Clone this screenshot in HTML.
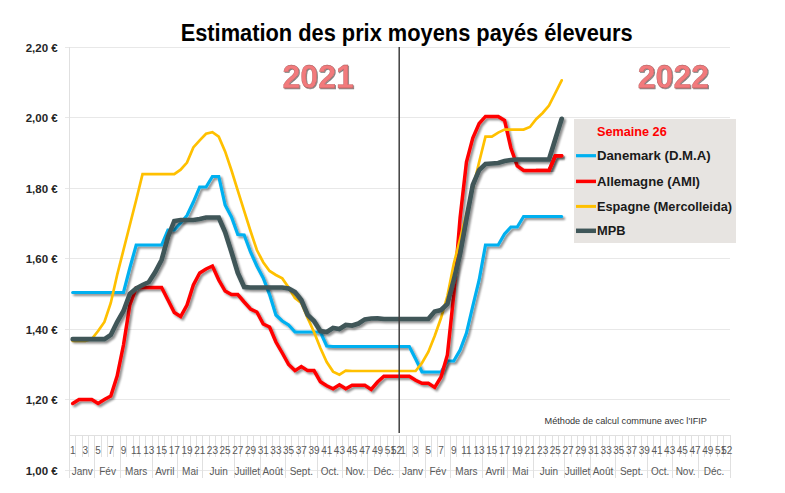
<!DOCTYPE html>
<html><head><meta charset="utf-8"><style>
html,body{margin:0;padding:0;background:#fff;width:785px;height:493px;overflow:hidden;font-family:"Liberation Sans",sans-serif;}
svg{display:block;}
</style></head><body>
<svg width="785" height="493" viewBox="0 0 785 493">
<defs>
<filter id="sh" x="-10%" y="-10%" width="120%" height="120%">
<feGaussianBlur in="SourceAlpha" stdDeviation="1.2"/>
<feOffset dx="1.8" dy="2" result="o"/>
<feComponentTransfer><feFuncA type="linear" slope="0.45"/></feComponentTransfer>
<feMerge><feMergeNode/><feMergeNode in="SourceGraphic"/></feMerge>
</filter>
<filter id="tsh" x="-10%" y="-10%" width="120%" height="130%">
<feGaussianBlur in="SourceAlpha" stdDeviation="0.6"/>
<feOffset dx="0.8" dy="1" result="o"/>
<feComponentTransfer><feFuncA type="linear" slope="0.5"/></feComponentTransfer>
<feMerge><feMergeNode/><feMergeNode in="SourceGraphic"/></feMerge>
</filter>
</defs>
<rect width="785" height="493" fill="#fff"/>
<line x1="65" y1="47.5" x2="730" y2="47.5" stroke="#e8e8e8" stroke-width="1"/>
<line x1="65" y1="117.5" x2="730" y2="117.5" stroke="#e8e8e8" stroke-width="1"/>
<line x1="65" y1="188.5" x2="730" y2="188.5" stroke="#e8e8e8" stroke-width="1"/>
<line x1="65" y1="258.5" x2="730" y2="258.5" stroke="#e8e8e8" stroke-width="1"/>
<line x1="65" y1="329.5" x2="730" y2="329.5" stroke="#e8e8e8" stroke-width="1"/>
<line x1="65" y1="399.5" x2="730" y2="399.5" stroke="#e8e8e8" stroke-width="1"/>
<line x1="65" y1="470.5" x2="730" y2="470.5" stroke="#e8e8e8" stroke-width="1"/>
<line x1="69.5" y1="47" x2="69.5" y2="478" stroke="#e0e0e0" stroke-width="1"/>
<line x1="69.5" y1="435.5" x2="730" y2="435.5" stroke="#e0e0e0" stroke-width="1"/>
<line x1="75.5" y1="435" x2="75.5" y2="457" stroke="#e0e0e0" stroke-width="1"/>
<line x1="82.5" y1="435" x2="82.5" y2="457" stroke="#e0e0e0" stroke-width="1"/>
<line x1="88.5" y1="435" x2="88.5" y2="457" stroke="#e0e0e0" stroke-width="1"/>
<line x1="94.5" y1="435" x2="94.5" y2="478" stroke="#e0e0e0" stroke-width="1"/>
<line x1="101.5" y1="435" x2="101.5" y2="457" stroke="#e0e0e0" stroke-width="1"/>
<line x1="107.5" y1="435" x2="107.5" y2="457" stroke="#e0e0e0" stroke-width="1"/>
<line x1="113.5" y1="435" x2="113.5" y2="457" stroke="#e0e0e0" stroke-width="1"/>
<line x1="120.5" y1="435" x2="120.5" y2="478" stroke="#e0e0e0" stroke-width="1"/>
<line x1="126.5" y1="435" x2="126.5" y2="457" stroke="#e0e0e0" stroke-width="1"/>
<line x1="133.5" y1="435" x2="133.5" y2="457" stroke="#e0e0e0" stroke-width="1"/>
<line x1="139.5" y1="435" x2="139.5" y2="457" stroke="#e0e0e0" stroke-width="1"/>
<line x1="145.5" y1="435" x2="145.5" y2="457" stroke="#e0e0e0" stroke-width="1"/>
<line x1="152.5" y1="435" x2="152.5" y2="478" stroke="#e0e0e0" stroke-width="1"/>
<line x1="158.5" y1="435" x2="158.5" y2="457" stroke="#e0e0e0" stroke-width="1"/>
<line x1="164.5" y1="435" x2="164.5" y2="457" stroke="#e0e0e0" stroke-width="1"/>
<line x1="171.5" y1="435" x2="171.5" y2="457" stroke="#e0e0e0" stroke-width="1"/>
<line x1="177.5" y1="435" x2="177.5" y2="478" stroke="#e0e0e0" stroke-width="1"/>
<line x1="183.5" y1="435" x2="183.5" y2="457" stroke="#e0e0e0" stroke-width="1"/>
<line x1="190.5" y1="435" x2="190.5" y2="457" stroke="#e0e0e0" stroke-width="1"/>
<line x1="196.5" y1="435" x2="196.5" y2="457" stroke="#e0e0e0" stroke-width="1"/>
<line x1="202.5" y1="435" x2="202.5" y2="478" stroke="#e0e0e0" stroke-width="1"/>
<line x1="209.5" y1="435" x2="209.5" y2="457" stroke="#e0e0e0" stroke-width="1"/>
<line x1="215.5" y1="435" x2="215.5" y2="457" stroke="#e0e0e0" stroke-width="1"/>
<line x1="221.5" y1="435" x2="221.5" y2="457" stroke="#e0e0e0" stroke-width="1"/>
<line x1="228.5" y1="435" x2="228.5" y2="457" stroke="#e0e0e0" stroke-width="1"/>
<line x1="234.5" y1="435" x2="234.5" y2="478" stroke="#e0e0e0" stroke-width="1"/>
<line x1="240.5" y1="435" x2="240.5" y2="457" stroke="#e0e0e0" stroke-width="1"/>
<line x1="247.5" y1="435" x2="247.5" y2="457" stroke="#e0e0e0" stroke-width="1"/>
<line x1="253.5" y1="435" x2="253.5" y2="457" stroke="#e0e0e0" stroke-width="1"/>
<line x1="260.5" y1="435" x2="260.5" y2="478" stroke="#e0e0e0" stroke-width="1"/>
<line x1="266.5" y1="435" x2="266.5" y2="457" stroke="#e0e0e0" stroke-width="1"/>
<line x1="272.5" y1="435" x2="272.5" y2="457" stroke="#e0e0e0" stroke-width="1"/>
<line x1="279.5" y1="435" x2="279.5" y2="457" stroke="#e0e0e0" stroke-width="1"/>
<line x1="285.5" y1="435" x2="285.5" y2="478" stroke="#e0e0e0" stroke-width="1"/>
<line x1="291.5" y1="435" x2="291.5" y2="457" stroke="#e0e0e0" stroke-width="1"/>
<line x1="298.5" y1="435" x2="298.5" y2="457" stroke="#e0e0e0" stroke-width="1"/>
<line x1="304.5" y1="435" x2="304.5" y2="457" stroke="#e0e0e0" stroke-width="1"/>
<line x1="310.5" y1="435" x2="310.5" y2="457" stroke="#e0e0e0" stroke-width="1"/>
<line x1="317.5" y1="435" x2="317.5" y2="478" stroke="#e0e0e0" stroke-width="1"/>
<line x1="323.5" y1="435" x2="323.5" y2="457" stroke="#e0e0e0" stroke-width="1"/>
<line x1="329.5" y1="435" x2="329.5" y2="457" stroke="#e0e0e0" stroke-width="1"/>
<line x1="336.5" y1="435" x2="336.5" y2="457" stroke="#e0e0e0" stroke-width="1"/>
<line x1="342.5" y1="435" x2="342.5" y2="478" stroke="#e0e0e0" stroke-width="1"/>
<line x1="348.5" y1="435" x2="348.5" y2="457" stroke="#e0e0e0" stroke-width="1"/>
<line x1="355.5" y1="435" x2="355.5" y2="457" stroke="#e0e0e0" stroke-width="1"/>
<line x1="361.5" y1="435" x2="361.5" y2="457" stroke="#e0e0e0" stroke-width="1"/>
<line x1="367.5" y1="435" x2="367.5" y2="478" stroke="#e0e0e0" stroke-width="1"/>
<line x1="374.5" y1="435" x2="374.5" y2="457" stroke="#e0e0e0" stroke-width="1"/>
<line x1="380.5" y1="435" x2="380.5" y2="457" stroke="#e0e0e0" stroke-width="1"/>
<line x1="387.5" y1="435" x2="387.5" y2="457" stroke="#e0e0e0" stroke-width="1"/>
<line x1="393.5" y1="435" x2="393.5" y2="457" stroke="#e0e0e0" stroke-width="1"/>
<line x1="399.5" y1="435" x2="399.5" y2="478" stroke="#e0e0e0" stroke-width="1"/>
<line x1="406.5" y1="435" x2="406.5" y2="457" stroke="#e0e0e0" stroke-width="1"/>
<line x1="412.5" y1="435" x2="412.5" y2="457" stroke="#e0e0e0" stroke-width="1"/>
<line x1="418.5" y1="435" x2="418.5" y2="457" stroke="#e0e0e0" stroke-width="1"/>
<line x1="425.5" y1="435" x2="425.5" y2="478" stroke="#e0e0e0" stroke-width="1"/>
<line x1="431.5" y1="435" x2="431.5" y2="457" stroke="#e0e0e0" stroke-width="1"/>
<line x1="437.5" y1="435" x2="437.5" y2="457" stroke="#e0e0e0" stroke-width="1"/>
<line x1="444.5" y1="435" x2="444.5" y2="457" stroke="#e0e0e0" stroke-width="1"/>
<line x1="450.5" y1="435" x2="450.5" y2="478" stroke="#e0e0e0" stroke-width="1"/>
<line x1="456.5" y1="435" x2="456.5" y2="457" stroke="#e0e0e0" stroke-width="1"/>
<line x1="463.5" y1="435" x2="463.5" y2="457" stroke="#e0e0e0" stroke-width="1"/>
<line x1="469.5" y1="435" x2="469.5" y2="457" stroke="#e0e0e0" stroke-width="1"/>
<line x1="475.5" y1="435" x2="475.5" y2="457" stroke="#e0e0e0" stroke-width="1"/>
<line x1="482.5" y1="435" x2="482.5" y2="478" stroke="#e0e0e0" stroke-width="1"/>
<line x1="488.5" y1="435" x2="488.5" y2="457" stroke="#e0e0e0" stroke-width="1"/>
<line x1="495.5" y1="435" x2="495.5" y2="457" stroke="#e0e0e0" stroke-width="1"/>
<line x1="501.5" y1="435" x2="501.5" y2="457" stroke="#e0e0e0" stroke-width="1"/>
<line x1="507.5" y1="435" x2="507.5" y2="478" stroke="#e0e0e0" stroke-width="1"/>
<line x1="514.5" y1="435" x2="514.5" y2="457" stroke="#e0e0e0" stroke-width="1"/>
<line x1="520.5" y1="435" x2="520.5" y2="457" stroke="#e0e0e0" stroke-width="1"/>
<line x1="526.5" y1="435" x2="526.5" y2="457" stroke="#e0e0e0" stroke-width="1"/>
<line x1="533.5" y1="435" x2="533.5" y2="478" stroke="#e0e0e0" stroke-width="1"/>
<line x1="539.5" y1="435" x2="539.5" y2="457" stroke="#e0e0e0" stroke-width="1"/>
<line x1="545.5" y1="435" x2="545.5" y2="457" stroke="#e0e0e0" stroke-width="1"/>
<line x1="552.5" y1="435" x2="552.5" y2="457" stroke="#e0e0e0" stroke-width="1"/>
<line x1="558.5" y1="435" x2="558.5" y2="457" stroke="#e0e0e0" stroke-width="1"/>
<line x1="564.5" y1="435" x2="564.5" y2="478" stroke="#e0e0e0" stroke-width="1"/>
<line x1="571.5" y1="435" x2="571.5" y2="457" stroke="#e0e0e0" stroke-width="1"/>
<line x1="577.5" y1="435" x2="577.5" y2="457" stroke="#e0e0e0" stroke-width="1"/>
<line x1="583.5" y1="435" x2="583.5" y2="457" stroke="#e0e0e0" stroke-width="1"/>
<line x1="590.5" y1="435" x2="590.5" y2="478" stroke="#e0e0e0" stroke-width="1"/>
<line x1="596.5" y1="435" x2="596.5" y2="457" stroke="#e0e0e0" stroke-width="1"/>
<line x1="602.5" y1="435" x2="602.5" y2="457" stroke="#e0e0e0" stroke-width="1"/>
<line x1="609.5" y1="435" x2="609.5" y2="457" stroke="#e0e0e0" stroke-width="1"/>
<line x1="615.5" y1="435" x2="615.5" y2="478" stroke="#e0e0e0" stroke-width="1"/>
<line x1="622.5" y1="435" x2="622.5" y2="457" stroke="#e0e0e0" stroke-width="1"/>
<line x1="628.5" y1="435" x2="628.5" y2="457" stroke="#e0e0e0" stroke-width="1"/>
<line x1="634.5" y1="435" x2="634.5" y2="457" stroke="#e0e0e0" stroke-width="1"/>
<line x1="641.5" y1="435" x2="641.5" y2="457" stroke="#e0e0e0" stroke-width="1"/>
<line x1="647.5" y1="435" x2="647.5" y2="478" stroke="#e0e0e0" stroke-width="1"/>
<line x1="653.5" y1="435" x2="653.5" y2="457" stroke="#e0e0e0" stroke-width="1"/>
<line x1="660.5" y1="435" x2="660.5" y2="457" stroke="#e0e0e0" stroke-width="1"/>
<line x1="666.5" y1="435" x2="666.5" y2="457" stroke="#e0e0e0" stroke-width="1"/>
<line x1="672.5" y1="435" x2="672.5" y2="478" stroke="#e0e0e0" stroke-width="1"/>
<line x1="679.5" y1="435" x2="679.5" y2="457" stroke="#e0e0e0" stroke-width="1"/>
<line x1="685.5" y1="435" x2="685.5" y2="457" stroke="#e0e0e0" stroke-width="1"/>
<line x1="691.5" y1="435" x2="691.5" y2="457" stroke="#e0e0e0" stroke-width="1"/>
<line x1="698.5" y1="435" x2="698.5" y2="478" stroke="#e0e0e0" stroke-width="1"/>
<line x1="704.5" y1="435" x2="704.5" y2="457" stroke="#e0e0e0" stroke-width="1"/>
<line x1="710.5" y1="435" x2="710.5" y2="457" stroke="#e0e0e0" stroke-width="1"/>
<line x1="717.5" y1="435" x2="717.5" y2="457" stroke="#e0e0e0" stroke-width="1"/>
<line x1="723.5" y1="435" x2="723.5" y2="457" stroke="#e0e0e0" stroke-width="1"/>
<line x1="730.5" y1="435" x2="730.5" y2="478" stroke="#e0e0e0" stroke-width="1"/>
<text x="25.7" y="51.5" textLength="32" lengthAdjust="spacingAndGlyphs" font-family="Liberation Sans" font-weight="bold" font-size="11" fill="#262626">2,20 €</text>
<text x="25.7" y="121.5" textLength="32" lengthAdjust="spacingAndGlyphs" font-family="Liberation Sans" font-weight="bold" font-size="11" fill="#262626">2,00 €</text>
<text x="25.7" y="192.5" textLength="32" lengthAdjust="spacingAndGlyphs" font-family="Liberation Sans" font-weight="bold" font-size="11" fill="#262626">1,80 €</text>
<text x="25.7" y="262.5" textLength="32" lengthAdjust="spacingAndGlyphs" font-family="Liberation Sans" font-weight="bold" font-size="11" fill="#262626">1,60 €</text>
<text x="25.7" y="333.5" textLength="32" lengthAdjust="spacingAndGlyphs" font-family="Liberation Sans" font-weight="bold" font-size="11" fill="#262626">1,40 €</text>
<text x="25.7" y="403.5" textLength="32" lengthAdjust="spacingAndGlyphs" font-family="Liberation Sans" font-weight="bold" font-size="11" fill="#262626">1,20 €</text>
<text x="25.7" y="474.5" textLength="32" lengthAdjust="spacingAndGlyphs" font-family="Liberation Sans" font-weight="bold" font-size="11" fill="#262626">1,00 €</text>
<text x="72.68" y="453.5" text-anchor="middle" font-family="Liberation Sans" font-size="10" fill="#595959">1</text>
<text x="85.38" y="453.5" text-anchor="middle" font-family="Liberation Sans" font-size="10" fill="#595959">3</text>
<text x="98.08" y="453.5" text-anchor="middle" font-family="Liberation Sans" font-size="10" fill="#595959">5</text>
<text x="110.78" y="453.5" text-anchor="middle" font-family="Liberation Sans" font-size="10" fill="#595959">7</text>
<text x="123.48" y="453.5" text-anchor="middle" font-family="Liberation Sans" font-size="10" fill="#595959">9</text>
<text x="136.19" y="453.5" text-anchor="middle" font-family="Liberation Sans" font-size="10" fill="#595959">11</text>
<text x="148.89" y="453.5" text-anchor="middle" font-family="Liberation Sans" font-size="10" fill="#595959">13</text>
<text x="161.59" y="453.5" text-anchor="middle" font-family="Liberation Sans" font-size="10" fill="#595959">15</text>
<text x="174.29" y="453.5" text-anchor="middle" font-family="Liberation Sans" font-size="10" fill="#595959">17</text>
<text x="186.99" y="453.5" text-anchor="middle" font-family="Liberation Sans" font-size="10" fill="#595959">19</text>
<text x="199.69" y="453.5" text-anchor="middle" font-family="Liberation Sans" font-size="10" fill="#595959">21</text>
<text x="212.40" y="453.5" text-anchor="middle" font-family="Liberation Sans" font-size="10" fill="#595959">23</text>
<text x="225.10" y="453.5" text-anchor="middle" font-family="Liberation Sans" font-size="10" fill="#595959">25</text>
<text x="237.80" y="453.5" text-anchor="middle" font-family="Liberation Sans" font-size="10" fill="#595959">27</text>
<text x="250.50" y="453.5" text-anchor="middle" font-family="Liberation Sans" font-size="10" fill="#595959">29</text>
<text x="263.20" y="453.5" text-anchor="middle" font-family="Liberation Sans" font-size="10" fill="#595959">31</text>
<text x="275.91" y="453.5" text-anchor="middle" font-family="Liberation Sans" font-size="10" fill="#595959">33</text>
<text x="288.61" y="453.5" text-anchor="middle" font-family="Liberation Sans" font-size="10" fill="#595959">35</text>
<text x="301.31" y="453.5" text-anchor="middle" font-family="Liberation Sans" font-size="10" fill="#595959">37</text>
<text x="314.01" y="453.5" text-anchor="middle" font-family="Liberation Sans" font-size="10" fill="#595959">39</text>
<text x="326.71" y="453.5" text-anchor="middle" font-family="Liberation Sans" font-size="10" fill="#595959">41</text>
<text x="339.42" y="453.5" text-anchor="middle" font-family="Liberation Sans" font-size="10" fill="#595959">43</text>
<text x="352.12" y="453.5" text-anchor="middle" font-family="Liberation Sans" font-size="10" fill="#595959">45</text>
<text x="364.82" y="453.5" text-anchor="middle" font-family="Liberation Sans" font-size="10" fill="#595959">47</text>
<text x="377.52" y="453.5" text-anchor="middle" font-family="Liberation Sans" font-size="10" fill="#595959">49</text>
<text x="390.22" y="453.5" text-anchor="middle" font-family="Liberation Sans" font-size="10" fill="#595959">51</text>
<text x="396.57" y="453.5" text-anchor="middle" font-family="Liberation Sans" font-size="10" fill="#595959">52</text>
<text x="82.20" y="474.5" text-anchor="middle" font-family="Liberation Sans" font-size="10" fill="#595959">Janv</text>
<text x="107.61" y="474.5" text-anchor="middle" font-family="Liberation Sans" font-size="10" fill="#595959">Fév</text>
<text x="136.19" y="474.5" text-anchor="middle" font-family="Liberation Sans" font-size="10" fill="#595959">Mars</text>
<text x="164.76" y="474.5" text-anchor="middle" font-family="Liberation Sans" font-size="10" fill="#595959">Avril</text>
<text x="190.17" y="474.5" text-anchor="middle" font-family="Liberation Sans" font-size="10" fill="#595959">Mai</text>
<text x="218.75" y="474.5" text-anchor="middle" font-family="Liberation Sans" font-size="10" fill="#595959">Juin</text>
<text x="247.33" y="474.5" text-anchor="middle" font-family="Liberation Sans" font-size="10" fill="#595959">Juillet</text>
<text x="272.73" y="474.5" text-anchor="middle" font-family="Liberation Sans" font-size="10" fill="#595959">Août</text>
<text x="301.31" y="474.5" text-anchor="middle" font-family="Liberation Sans" font-size="10" fill="#595959">Sept.</text>
<text x="329.89" y="474.5" text-anchor="middle" font-family="Liberation Sans" font-size="10" fill="#595959">Oct.</text>
<text x="355.29" y="474.5" text-anchor="middle" font-family="Liberation Sans" font-size="10" fill="#595959">Nov.</text>
<text x="383.87" y="474.5" text-anchor="middle" font-family="Liberation Sans" font-size="10" fill="#595959">Déc.</text>
<text x="402.93" y="453.5" text-anchor="middle" font-family="Liberation Sans" font-size="10" fill="#595959">1</text>
<text x="415.63" y="453.5" text-anchor="middle" font-family="Liberation Sans" font-size="10" fill="#595959">3</text>
<text x="428.33" y="453.5" text-anchor="middle" font-family="Liberation Sans" font-size="10" fill="#595959">5</text>
<text x="441.03" y="453.5" text-anchor="middle" font-family="Liberation Sans" font-size="10" fill="#595959">7</text>
<text x="453.73" y="453.5" text-anchor="middle" font-family="Liberation Sans" font-size="10" fill="#595959">9</text>
<text x="466.44" y="453.5" text-anchor="middle" font-family="Liberation Sans" font-size="10" fill="#595959">11</text>
<text x="479.14" y="453.5" text-anchor="middle" font-family="Liberation Sans" font-size="10" fill="#595959">13</text>
<text x="491.84" y="453.5" text-anchor="middle" font-family="Liberation Sans" font-size="10" fill="#595959">15</text>
<text x="504.54" y="453.5" text-anchor="middle" font-family="Liberation Sans" font-size="10" fill="#595959">17</text>
<text x="517.24" y="453.5" text-anchor="middle" font-family="Liberation Sans" font-size="10" fill="#595959">19</text>
<text x="529.94" y="453.5" text-anchor="middle" font-family="Liberation Sans" font-size="10" fill="#595959">21</text>
<text x="542.65" y="453.5" text-anchor="middle" font-family="Liberation Sans" font-size="10" fill="#595959">23</text>
<text x="555.35" y="453.5" text-anchor="middle" font-family="Liberation Sans" font-size="10" fill="#595959">25</text>
<text x="568.05" y="453.5" text-anchor="middle" font-family="Liberation Sans" font-size="10" fill="#595959">27</text>
<text x="580.75" y="453.5" text-anchor="middle" font-family="Liberation Sans" font-size="10" fill="#595959">29</text>
<text x="593.45" y="453.5" text-anchor="middle" font-family="Liberation Sans" font-size="10" fill="#595959">31</text>
<text x="606.16" y="453.5" text-anchor="middle" font-family="Liberation Sans" font-size="10" fill="#595959">33</text>
<text x="618.86" y="453.5" text-anchor="middle" font-family="Liberation Sans" font-size="10" fill="#595959">35</text>
<text x="631.56" y="453.5" text-anchor="middle" font-family="Liberation Sans" font-size="10" fill="#595959">37</text>
<text x="644.26" y="453.5" text-anchor="middle" font-family="Liberation Sans" font-size="10" fill="#595959">39</text>
<text x="656.96" y="453.5" text-anchor="middle" font-family="Liberation Sans" font-size="10" fill="#595959">41</text>
<text x="669.67" y="453.5" text-anchor="middle" font-family="Liberation Sans" font-size="10" fill="#595959">43</text>
<text x="682.37" y="453.5" text-anchor="middle" font-family="Liberation Sans" font-size="10" fill="#595959">45</text>
<text x="695.07" y="453.5" text-anchor="middle" font-family="Liberation Sans" font-size="10" fill="#595959">47</text>
<text x="707.77" y="453.5" text-anchor="middle" font-family="Liberation Sans" font-size="10" fill="#595959">49</text>
<text x="720.47" y="453.5" text-anchor="middle" font-family="Liberation Sans" font-size="10" fill="#595959">51</text>
<text x="726.82" y="453.5" text-anchor="middle" font-family="Liberation Sans" font-size="10" fill="#595959">52</text>
<text x="412.45" y="474.5" text-anchor="middle" font-family="Liberation Sans" font-size="10" fill="#595959">Janv</text>
<text x="437.86" y="474.5" text-anchor="middle" font-family="Liberation Sans" font-size="10" fill="#595959">Fév</text>
<text x="466.44" y="474.5" text-anchor="middle" font-family="Liberation Sans" font-size="10" fill="#595959">Mars</text>
<text x="495.01" y="474.5" text-anchor="middle" font-family="Liberation Sans" font-size="10" fill="#595959">Avril</text>
<text x="520.42" y="474.5" text-anchor="middle" font-family="Liberation Sans" font-size="10" fill="#595959">Mai</text>
<text x="549.00" y="474.5" text-anchor="middle" font-family="Liberation Sans" font-size="10" fill="#595959">Juin</text>
<text x="577.58" y="474.5" text-anchor="middle" font-family="Liberation Sans" font-size="10" fill="#595959">Juillet</text>
<text x="602.98" y="474.5" text-anchor="middle" font-family="Liberation Sans" font-size="10" fill="#595959">Août</text>
<text x="631.56" y="474.5" text-anchor="middle" font-family="Liberation Sans" font-size="10" fill="#595959">Sept.</text>
<text x="660.14" y="474.5" text-anchor="middle" font-family="Liberation Sans" font-size="10" fill="#595959">Oct.</text>
<text x="685.54" y="474.5" text-anchor="middle" font-family="Liberation Sans" font-size="10" fill="#595959">Nov.</text>
<text x="714.12" y="474.5" text-anchor="middle" font-family="Liberation Sans" font-size="10" fill="#595959">Déc.</text>
<text x="544.5" y="424.2" textLength="162.5" lengthAdjust="spacingAndGlyphs" font-family="Liberation Sans" font-size="9.5" fill="#333333">Méthode de calcul commune avec l'IFIP</text>
<g fill="none" stroke-linejoin="miter" stroke-miterlimit="2.5" stroke-linecap="round">
<polyline filter="url(#sh)" points="72.68,292.50 79.03,292.50 85.38,292.50 91.73,292.50 98.08,292.50 104.43,292.50 110.78,292.50 117.13,292.50 123.48,292.50 129.83,268.00 136.19,245.00 142.54,245.00 148.89,245.00 155.24,245.00 161.59,245.00 167.94,230.00 174.29,230.00 180.64,223.00 186.99,215.50 193.34,202.00 199.69,187.00 206.05,187.00 212.40,176.50 218.75,176.50 225.10,205.00 231.45,217.00 237.80,234.50 244.15,235.00 250.50,252.00 256.85,266.00 263.20,278.00 269.56,294.60 275.91,315.00 282.26,321.00 288.61,325.00 294.96,332.00 301.31,332.00 307.66,332.00 314.01,332.00 320.36,332.00 326.71,346.00 333.06,346.50 339.42,346.50 345.77,346.50 352.12,346.50 358.47,346.50 364.82,346.50 371.17,346.50 377.52,346.50 383.87,346.50 390.22,346.50 396.57,346.50 402.93,346.50 409.28,346.50 415.63,359.00 421.98,372.00 428.33,372.00 434.68,372.00 441.03,372.00 447.38,361.00 453.73,361.00 460.08,350.00 466.44,333.00 472.79,306.00 479.14,280.00 485.49,245.00 491.84,245.00 498.19,245.00 504.54,234.00 510.89,227.00 517.24,227.00 523.59,216.50 529.94,216.50 536.30,216.50 542.65,216.50 549.00,216.50 555.35,216.50 561.70,216.50" stroke="#00b0f0" stroke-width="3.2"/>
<polyline filter="url(#sh)" points="72.68,403.50 79.03,399.50 85.38,399.50 91.73,399.50 98.08,403.50 104.43,399.50 110.78,396.00 117.13,376.00 123.48,345.00 129.83,305.00 136.19,288.00 142.54,287.50 148.89,287.50 155.24,287.50 161.59,287.50 167.94,300.00 174.29,312.50 180.64,316.50 186.99,305.00 193.34,285.00 199.69,273.00 206.05,269.00 212.40,266.00 218.75,280.00 225.10,291.00 231.45,294.60 237.80,294.60 244.15,302.00 250.50,309.00 256.85,312.00 263.20,324.00 269.56,327.00 275.91,342.00 282.26,353.00 288.61,364.50 294.96,370.60 301.31,366.50 307.66,370.60 314.01,370.60 320.36,381.70 326.71,385.80 333.06,388.80 339.42,384.80 345.77,388.80 352.12,385.30 358.47,385.30 364.82,385.30 371.17,389.40 377.52,382.00 383.87,376.20 390.22,376.20 396.57,376.20 402.93,376.20 409.28,376.20 415.63,380.30 421.98,383.30 428.33,383.30 434.68,387.40 441.03,377.00 447.38,355.00 453.73,295.00 460.08,218.00 466.44,162.00 472.79,138.00 479.14,123.50 485.49,116.40 491.84,116.40 498.19,116.40 504.54,120.40 510.89,148.00 517.24,166.00 523.59,170.40 529.94,170.40 536.30,170.40 542.65,170.40 549.00,170.40 555.35,155.80 561.70,155.80" stroke="#ff0000" stroke-width="3.5"/>
<polyline points="72.68,341.00 79.03,341.00 85.38,341.00 91.73,339.00 98.08,331.00 104.43,322.00 110.78,303.00 117.13,275.00 123.48,250.00 129.83,225.00 136.19,200.00 142.54,174.20 148.89,174.20 155.24,174.20 161.59,174.20 167.94,174.20 174.29,174.20 180.64,169.70 186.99,162.60 193.34,147.40 199.69,140.30 206.05,133.80 212.40,132.20 218.75,136.60 225.10,151.40 231.45,170.30 237.80,190.60 244.15,210.90 250.50,231.00 256.85,250.00 263.20,262.20 269.56,271.00 275.91,275.00 282.26,278.40 288.61,287.50 294.96,298.00 301.31,303.00 307.66,318.00 314.01,332.00 320.36,348.00 326.71,362.00 333.06,371.60 339.42,374.60 345.77,370.60 352.12,371.00 358.47,371.00 364.82,371.00 371.17,371.00 377.52,371.00 383.87,371.00 390.22,371.00 396.57,371.00 402.93,371.00 409.28,371.00 415.63,371.00 421.98,363.00 428.33,352.00 434.68,336.00 441.03,318.00 447.38,296.00 453.73,264.00 460.08,239.00 466.44,214.00 472.79,189.00 479.14,162.00 485.49,136.70 491.84,136.70 498.19,132.60 504.54,129.60 510.89,129.60 517.24,129.60 523.59,129.60 529.94,127.00 536.30,119.00 542.65,113.00 549.00,105.60 555.35,93.00 561.70,80.30" stroke="#ffc000" stroke-width="2.7"/>
<polyline filter="url(#sh)" points="72.68,339.20 79.03,339.20 85.38,339.20 91.73,339.20 98.08,339.20 104.43,339.20 110.78,335.00 117.13,322.00 123.48,311.00 129.83,294.00 136.19,288.50 142.54,285.00 148.89,282.00 155.24,272.00 161.59,260.00 167.94,237.00 174.29,221.00 180.64,220.00 186.99,220.00 193.34,220.00 199.69,219.00 206.05,217.50 212.40,217.50 218.75,217.50 225.10,232.00 231.45,252.00 237.80,273.00 244.15,287.00 250.50,287.50 256.85,287.50 263.20,287.50 269.56,287.50 275.91,287.50 282.26,287.50 288.61,288.50 294.96,292.00 301.31,300.00 307.66,315.00 314.01,321.00 320.36,331.00 326.71,332.00 333.06,328.00 339.42,329.00 345.77,325.00 352.12,325.50 358.47,323.50 364.82,319.40 371.17,318.50 377.52,318.40 383.87,319.00 390.22,319.00 396.57,319.00 402.93,319.00 409.28,319.00 415.63,319.00 421.98,319.00 428.33,319.00 434.68,311.50 441.03,310.00 447.38,304.00 453.73,280.00 460.08,254.00 466.44,219.00 472.79,185.00 479.14,170.00 485.49,164.00 491.84,163.50 498.19,163.00 504.54,161.00 510.89,160.00 517.24,159.50 523.59,159.50 529.94,159.50 536.30,159.50 542.65,159.50 549.00,159.50 555.35,139.00 561.70,118.80" stroke="#3f5659" stroke-width="4.7"/>
<polyline filter="url(#sh)" points="536.30,170.40 542.65,170.40 549.00,170.40 555.35,155.80 561.70,155.80" stroke="#ff0000" stroke-width="3.5"/>
</g>
<line x1="399.2" y1="47" x2="399.2" y2="433" stroke="#404040" stroke-width="1.5"/>
<text x="180.7" y="40.6" textLength="452" lengthAdjust="spacingAndGlyphs" font-family="Liberation Sans" font-weight="bold" font-size="23" fill="#000">Estimation des prix moyens payés éleveurs</text>
<text x="282.5" y="88" textLength="71.5" lengthAdjust="spacingAndGlyphs" font-family="Liberation Sans" font-weight="bold" font-size="33" fill="#f27a7c" stroke="#a05050" stroke-width="0.3" filter="url(#tsh)">2021</text>
<text x="637.7" y="88" textLength="71.5" lengthAdjust="spacingAndGlyphs" font-family="Liberation Sans" font-weight="bold" font-size="33" fill="#f27a7c" stroke="#a05050" stroke-width="0.3" filter="url(#tsh)">2022</text>
<rect x="574" y="119" width="162" height="124" fill="#e7e4e1"/>
<text x="597" y="135.6" textLength="69.7" lengthAdjust="spacingAndGlyphs" font-family="Liberation Sans" font-weight="bold" font-size="12" fill="#ff0000">Semaine 26</text>
<line x1="576" y1="155.7" x2="596" y2="155.7" stroke="#00b0f0" stroke-width="3.2"/>
<text x="597" y="160.2" textLength="113.7" lengthAdjust="spacingAndGlyphs" font-family="Liberation Sans" font-weight="bold" font-size="12.5" fill="#1a1a1a">Danemark (D.M.A)</text>
<line x1="576" y1="181.4" x2="596" y2="181.4" stroke="#ff0000" stroke-width="3.5"/>
<text x="597" y="185.9" textLength="103" lengthAdjust="spacingAndGlyphs" font-family="Liberation Sans" font-weight="bold" font-size="12.5" fill="#1a1a1a">Allemagne (AMI)</text>
<line x1="576" y1="206.4" x2="596" y2="206.4" stroke="#ffc000" stroke-width="3"/>
<text x="597" y="210.9" textLength="135" lengthAdjust="spacingAndGlyphs" font-family="Liberation Sans" font-weight="bold" font-size="12.5" fill="#1a1a1a">Espagne (Mercolleida)</text>
<line x1="576" y1="230.8" x2="596" y2="230.8" stroke="#3f5659" stroke-width="4.5"/>
<text x="597" y="235.3" textLength="28.5" lengthAdjust="spacingAndGlyphs" font-family="Liberation Sans" font-weight="bold" font-size="12.5" fill="#1a1a1a">MPB</text>
</svg>
</body></html>
